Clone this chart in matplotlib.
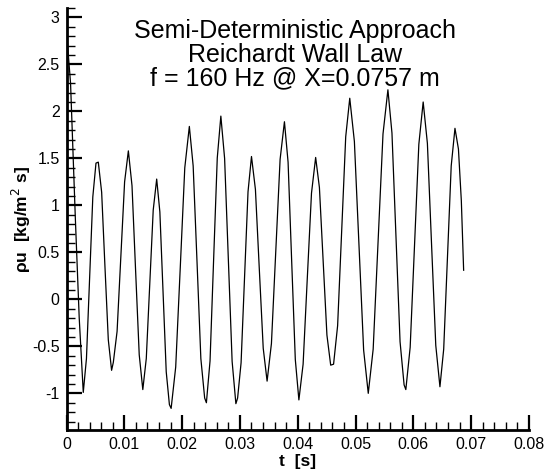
import matplotlib
matplotlib.use("Agg")
import matplotlib.pyplot as plt
from matplotlib.ticker import MultipleLocator, FormatStrFormatter

plt.rcParams['font.family'] = ['Liberation Sans', 'DejaVu Sans']

# signal (time in s, rho*u in kg/m^2 s)
t_pts = [0.0, 0.0007, 0.00153, 0.0022, 0.0029,
         0.00345, 0.0040, 0.00455, 0.0051, 0.0055,
         0.00608, 0.00665, 0.00723, 0.0078, 0.0081,
         0.00875, 0.0094, 0.01005, 0.0107,
         0.01133, 0.01195, 0.01258, 0.0132,
         0.0138, 0.0144, 0.0150, 0.0156,
         0.01615, 0.0167, 0.01725, 0.0178, 0.0181,
         0.01889, 0.01968, 0.02046, 0.02125,
         0.02191, 0.02258, 0.02324, 0.0239, 0.0242,
         0.02483, 0.02545, 0.02608, 0.0267,
         0.02735, 0.0280, 0.02865, 0.0293, 0.0296,
         0.0302, 0.0308, 0.0314, 0.0320,
         0.03268, 0.03335, 0.03403, 0.0347,
         0.03545, 0.0362, 0.03695, 0.0377,
         0.03833, 0.03895, 0.03958, 0.0402,
         0.04093, 0.04165, 0.04238, 0.0431,
         0.04375, 0.0444, 0.04505, 0.0457, 0.0462,
         0.0469, 0.0476, 0.0483, 0.0490,
         0.0498, 0.0506, 0.0514, 0.0522,
         0.05305, 0.0539, 0.05475, 0.0556,
         0.0563, 0.0570, 0.0577, 0.0584, 0.0587,
         0.05945, 0.0602, 0.06095, 0.0617,
         0.06243, 0.06315, 0.06388, 0.0646,
         0.06525, 0.0659, 0.06655, 0.0672,
         0.0678, 0.0683, 0.0687]
rho_u = [2.85, 2.3, 0.86, -0.2, -0.99,
         -0.63, 0.23, 1.09, 1.45, 1.46,
         1.14, 0.35, -0.43, -0.755, -0.67,
         -0.34, 0.455, 1.25, 1.58,
         1.21, 0.31, -0.59, -0.96,
         -0.63, 0.16, 0.95, 1.28,
         0.93, 0.08, -0.77, -1.12, -1.16,
         -0.72, 0.34, 1.40, 1.84,
         1.42, 0.395, -0.63, -1.05, -1.10,
         -0.655, 0.425, 1.505, 1.95,
         1.50, 0.42, -0.66, -1.11, -1.05,
         -0.675, 0.235, 1.145, 1.52,
         1.17, 0.325, -0.52, -0.87,
         -0.47, 0.51, 1.49, 1.89,
         1.46, 0.41, -0.64, -1.07,
         -0.69, 0.22, 1.13, 1.51,
         1.19, 0.405, -0.38, -0.70, -0.69,
         -0.28, 0.725, 1.73, 2.14,
         1.68, 0.57, -0.54, -1.0,
         -0.53, 0.615, 1.76, 2.23,
         1.77, 0.66, -0.45, -0.91, -0.96,
         -0.51, 0.57, 1.65, 2.10,
         1.66, 0.585, -0.49, -0.93,
         -0.53, 0.445, 1.42, 1.82,
         1.6, 1.05, 0.31]

title_lines = ["Semi-Deterministic Approach", "Reichardt Wall Law",
               "f = 160 Hz @ X=0.0757 m"]


def main():
    fig = plt.figure(figsize=(5.51, 4.72), dpi=100)
    ax = fig.add_axes([0.1207, 0.089, 0.8393, 0.894])
    ax.plot(t_pts, rho_u, color="black", lw=0.9)

    ax.set_xlim(0, 0.08)
    ax.set_ylim(-1.39, 3.1)
    ax.xaxis.set_major_locator(MultipleLocator(0.01))
    ax.xaxis.set_minor_locator(MultipleLocator(0.002))
    ax.yaxis.set_major_locator(MultipleLocator(0.5))
    ax.yaxis.set_minor_locator(MultipleLocator(0.1))
    ax.xaxis.set_major_formatter(FormatStrFormatter("%g"))
    ax.yaxis.set_major_formatter(FormatStrFormatter("%g"))

    for s in ["top", "right"]:
        ax.spines[s].set_visible(False)
    for s in ["left", "bottom"]:
        ax.spines[s].set_linewidth(2)
    ax.tick_params(which="major", direction="in", length=10.5, width=1.6,
                   labelsize=11.5, pad=5)
    ax.tick_params(which="minor", direction="in", length=5.5, width=1)

    ax.set_xlabel("t  [s]", fontsize=12.5, fontweight="bold", labelpad=1.5)
    ax.set_ylabel("ρu  [kg/m$^2$ s]", fontsize=12.5, fontweight="bold")
    ax.yaxis.set_label_coords(-0.072, 0.5)

    ax.text(0.4946, 0.975, "\n".join(title_lines), transform=ax.transAxes,
            ha="center", va="top", fontsize=18, linespacing=1.0)

    fig.savefig("out.png", dpi=100)


if __name__ == "__main__":
    main()
